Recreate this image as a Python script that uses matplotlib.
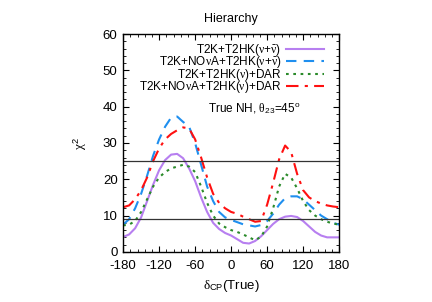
import numpy as np
import matplotlib.pyplot as plt
from matplotlib.ticker import MultipleLocator

plt.rcParams['font.family'] = ['Liberation Sans', 'DejaVu Sans']
plt.rcParams['mathtext.fontset'] = 'custom'
plt.rcParams['mathtext.rm'] = 'Liberation Sans'
plt.rcParams['mathtext.it'] = 'Liberation Serif'
plt.rcParams['axes.unicode_minus'] = False

delta_cp = list(range(-180, 181, 10))

t2k_t2hk = [4.1, 4.8, 6.5, 9.5, 14, 18.5, 22.5, 25.3, 26.8, 27, 25.8, 23, 19.5, 15, 11, 8,
            6.3, 5.2, 4.5, 3.5, 2.5, 2.3, 3, 4.3, 6, 7.7, 9, 9.7, 9.9, 9.6, 8.5, 7, 5.5, 4.5,
            4, 4, 4]
t2k_nova_t2hk = [7.5, 9, 12, 16, 21, 26.5, 31, 34.5, 37, 37.3, 35.8, 34.5, 30, 24, 18, 14,
                 11, 9.5, 8.8, 8.2, 7.6, 7.3, 7.0, 7.4, 8.5, 10.5, 13, 14.8, 15.3, 15.3, 14.5,
                 13, 11.5, 10, 9, 8, 7.5]
t2k_t2hk_dar = [7.3, 7.5, 8.5, 11, 14.5, 18, 20.5, 22, 23, 23.5, 24, 23.5, 22, 18, 13.5, 10,
                7.8, 6.8, 6, 5.5, 4.8, 4, 3.2, 4.2, 7, 12, 18, 21.5, 20.5, 17.5, 14, 11.5, 10,
                9, 8.3, 7.8, 7.5]
t2k_nova_t2hk_dar = [12.3, 12.8, 14.5, 17, 20.5, 25, 28.5, 31, 32.5, 33.5, 34.3, 34, 31, 26,
                     20.5, 16, 13.5, 12, 11, 10.5, 9.7, 9, 8.3, 8.5, 13, 19, 25.5, 29.3, 27.5,
                     21.5, 17, 15, 14, 13.3, 12.8, 12.5, 12.3]

labels = [r'T2K+T2HK($\nu$+$\bar{\nu}$)', r'T2K+NO$\nu$A+T2HK($\nu$+$\bar{\nu}$)',
          r'T2K+T2HK($\nu$)+DAR', r'T2K+NO$\nu$A+T2HK($\nu$)+DAR']
sigma_levels = [25, 9]

fig = plt.figure(figsize=(4.32, 3.02), dpi=100)
ax = fig.add_axes([0.285, 0.166, 0.5, 0.721])

ax.plot(delta_cp, t2k_t2hk, color='#b77ff0', lw=1.5, label=labels[0])
ax.plot(delta_cp, t2k_nova_t2hk, color='#1f8fef', lw=1.5, dashes=(5, 3.5), label=labels[1])
ax.plot(delta_cp, t2k_t2hk_dar, color='#2a8a2a', lw=1.5, dashes=(1.3, 2.2), label=labels[2])
ax.plot(delta_cp, t2k_nova_t2hk_dar, color='#ff1010', lw=1.5, dashes=(6, 3, 1.5, 3), label=labels[3])
for lvl in sigma_levels:
    ax.axhline(lvl, color='#333333', lw=0.9)

ax.set_xlim(-180, 180)
ax.set_ylim(0, 60)
ax.xaxis.set_major_locator(MultipleLocator(60))
ax.xaxis.set_minor_locator(MultipleLocator(12))
ax.yaxis.set_major_locator(MultipleLocator(10))
ax.yaxis.set_minor_locator(MultipleLocator(2))
ax.tick_params(which='both', direction='in', top=True, right=True, labelsize=9.5)
ax.tick_params(which='major', length=4)
ax.tick_params(which='minor', length=2)
ax.tick_params(axis='x', pad=6)
ax.tick_params(axis='y', pad=4)
for s in ax.spines.values():
    s.set_linewidth(1.0)

ax.set_xlabel(r'$\delta_{\mathrm{CP}}$(True)', fontsize=9.5, labelpad=4)
ax.set_ylabel(r'$\chi^2$', fontsize=9.5, labelpad=10)
ax.set_title('Hierarchy', fontsize=9, pad=9)
ax.text(-38, 39.5, r'True NH, $\theta_{23}$=45$^{\mathrm{o}}$', fontsize=8.5, va='center')

ax.legend(loc='upper right', frameon=False, markerfirst=False, fontsize=8.5,
          handlelength=3.2, handletextpad=0.4, labelspacing=-0.3, borderaxespad=0.25,
          bbox_to_anchor=(0.965, 1.0))

fig.savefig('out.png', dpi=100)
